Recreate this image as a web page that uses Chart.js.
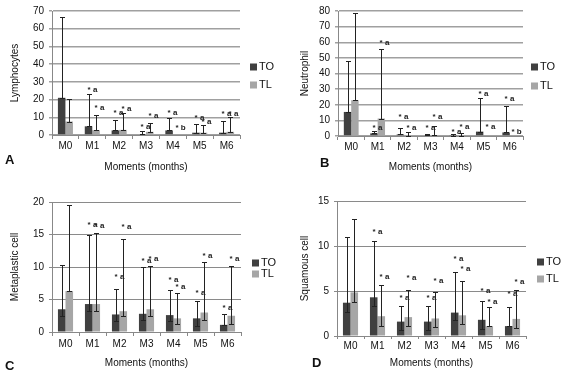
<!DOCTYPE html>
<html lang="en">
<head>
<meta charset="UTF-8">
<title>Cytology by moment</title>
<script src="https://cdn.jsdelivr.net/npm/chart.js"></script>
<style>
  body { margin: 0; background: #fff; width: 562px; height: 375px; position: relative; overflow: hidden; }
  canvas { position: absolute; }
  .tag { position: absolute; font: bold 13px "Liberation Sans", Arial, sans-serif; color: #111; }
</style>
</head>
<body>
<canvas id="chartA" width="280" height="190" style="left:0;top:0"></canvas>
<canvas id="chartB" width="282" height="190" style="left:280px;top:0"></canvas>
<canvas id="chartC" width="280" height="185" style="left:0;top:190px"></canvas>
<canvas id="chartD" width="282" height="185" style="left:280px;top:190px"></canvas>
<div class="tag" style="left:5px;top:152px">A</div>
<div class="tag" style="left:320px;top:155px">B</div>
<div class="tag" style="left:5px;top:358px">C</div>
<div class="tag" style="left:312px;top:355px">D</div>

<script>
const months = ['M0', 'M1', 'M2', 'M3', 'M4', 'M5', 'M6'];

// A - lymphocytes
const lymTO     = [21, 4.9, 2.6, 0.4, 2.6, 1.3, 1.3];
const lymTOhi   = [66.5, 23.2, 8.6, 2.0, 9.6, 6.2, 8.0];
const lymTOlo   = [21, 4.9, 2.6, 0.4, 2.6, 1.3, 1.3];
const lymTL     = [7.6, 2.7, 2.9, 1.8, 0.5, 1.3, 1.8];
const lymTLhi   = [20.2, 11.3, 12.6, 6.8, 0.5, 5.5, 10.0];
const lymTLlo   = [7.6, 2.7, 2.9, 1.8, 0.5, 1.3, 1.8];
const lymTOstar = [null, 25.5, 12.6, 4.5, 12.6, 9.5, 12.2];
const lymTLstar = [null, 15.5, 14.8, 10.8, 4.0, 7.3, 12.2];
const lymTOsig  = ['', 'a', 'a', 'a', 'a', 'a', 'a'];
const lymTLsig  = ['', 'a', 'a', 'a', 'b', 'a', 'a'];

// B - neutrophil
const neuTO     = [15.4, 1.7, 1.0, 0.5, 0.3, 2.8, 2.3];
const neuTOhi   = [47.8, 3.5, 5.3, 1.5, 1.5, 24.3, 19.0];
const neuTOlo   = [15.4, 1.7, 1.0, 0.5, 0.3, 2.8, 2.3];
const neuTL     = [22.9, 11.2, 0.2, 0.5, 0, 0.3, 0];
const neuTLhi   = [78.5, 56, 2.3, 6.3, 2.2, 0.3, 0];
const neuTLlo   = [22.9, 11.2, 0.2, 0.5, 0, 0.3, 0];
const neuTOstar = [null, 5.0, 12.3, 5.5, 2.7, 27.1, 23.9];
const neuTLstar = [null, 59.7, 5.3, 12.3, 6.0, 6.0, 2.8];
const neuTOsig  = ['', 'a', 'a', 'a', 'a', 'a', 'a'];
const neuTLsig  = ['', 'a', 'a', 'a', 'a', 'a', 'b'];

// C - metaplastic cell
const metTO     = [3.5, 4.3, 2.7, 2.8, 2.6, 2.1, 1.1];
const metTOhi   = [10.3, 15.0, 6.6, 10.0, 6.5, 4.8, 2.8];
const metTOlo   = [2.5, 3.3, 1.7, 1.8, 1.7, 1.0, 1.1];
const metTL     = [6.3, 4.3, 3.2, 3.5, 2.1, 3.0, 2.5];
const metTLhi   = [19.6, 15.2, 14.3, 10.1, 6.0, 10.7, 10.2];
const metTLlo   = [6.3, 3.3, 2.4, 2.4, 1.2, 1.8, 1.3];
const metTOstar = [null, 16.5, 8.5, 11.0, 8.0, 6.0, 3.7];
const metTLstar = [null, 16.4, 16.2, 11.2, 7.0, 11.7, 11.2];
const metTOsig  = ['', 'a', 'a', 'a', 'a', 'a', 'a'];
const metTLsig  = ['', 'a', 'a', 'a', 'a', 'a', 'a'];

// D - squamous cell
const squTO     = [3.7, 4.3, 1.6, 1.6, 2.6, 1.8, 1.1];
const squTOhi   = [11.0, 10.6, 3.3, 3.3, 7.1, 3.85, 3.2];
const squTOlo   = [2.7, 3.3, 0.7, 0.7, 1.8, 0.8, 1.1];
const squTL     = [4.85, 2.2, 2.1, 1.95, 2.3, 1.1, 1.9];
const squTLhi   = [13.0, 5.7, 5.15, 4.9, 6.1, 3.2, 5.1];
const squTLlo   = [3.8, 1.15, 1.1, 0.95, 1.3, 1.1, 0.85];
const squTOstar = [null, 11.6, 4.2, 4.3, 8.55, 5.0, 4.7];
const squTLstar = [null, 6.6, 6.5, 6.1, 7.45, 3.85, 6.0];
const squTOsig  = ['', 'a', 'a', 'a', 'a', 'a', 'a'];
const squTLsig  = ['', 'a', 'a', 'a', 'a', 'a', 'a'];

const FONT = '"Liberation Sans", Arial, sans-serif';
Chart.defaults.font.family = FONT;
Chart.defaults.color = '#111';

// whiskers + "*a" marks, placed with the y scale
const errorBars = {
  id: 'errorBars',
  afterDatasetsDraw(chart) {
    const ctx = chart.ctx, ys = chart.scales.y;
    ctx.save();
    ctx.strokeStyle = '#222';
    ctx.fillStyle = '#222';
    ctx.lineWidth = 1;
    ctx.font = 'bold 8px ' + FONT;
    ctx.textAlign = 'center';
    ctx.textBaseline = 'middle';
    chart.data.datasets.forEach((ds, i) => {
      chart.getDatasetMeta(i).data.forEach((bar, j) => {
        const x = Math.round(bar.x) + 0.5;
        if (ds.hi[j] > ds.data[j]) {
          const yt = Math.round(ys.getPixelForValue(ds.hi[j])) + 0.5;
          const yb = Math.round(ys.getPixelForValue(ds.lo[j])) + 0.5;
          ctx.beginPath();
          ctx.moveTo(x, yt); ctx.lineTo(x, yb);
          ctx.moveTo(x - 2.5, yt); ctx.lineTo(x + 2.5, yt);
          ctx.moveTo(x - 2.5, yb); ctx.lineTo(x + 2.5, yb);
          ctx.stroke();
        }
        if (ds.sig[j]) {
          ctx.fillText('* ' + ds.sig[j], x + 3, ys.getPixelForValue(ds.star[j]));
        }
      });
    });
    ctx.restore();
  }
};

const sideLegend = {
  id: 'sideLegend',
  afterDraw(chart, args, opts) {
    const ctx = chart.ctx;
    ctx.save();
    ctx.font = '11px ' + FONT;
    ctx.textBaseline = 'middle';
    chart.data.datasets.forEach((ds, i) => {
      const cy = opts.y + i * opts.gap;
      ctx.fillStyle = ds.backgroundColor;
      ctx.fillRect(opts.x, cy - 3.5, 7, 7);
      ctx.fillStyle = '#111';
      ctx.fillText(ds.label, opts.x + 9, cy);
    });
    ctx.restore();
  }
};

function panel(id, p) {
  new Chart(document.getElementById(id), {
    type: 'bar',
    data: {
      labels: months,
      datasets: [
        { label: 'TO', data: p.to, hi: p.toHi, lo: p.toLo, star: p.toStar, sig: p.toSig, backgroundColor: '#404040' },
        { label: 'TL', data: p.tl, hi: p.tlHi, lo: p.tlLo, star: p.tlStar, sig: p.tlSig, backgroundColor: '#a6a6a6' }
      ]
    },
    options: {
      responsive: false,
      animation: false,
      devicePixelRatio: 1,
      categoryPercentage: 0.56,
      barPercentage: 1.0,
      layout: { padding: { top: p.top, right: p.right, left: 0, bottom: 0 } },
      plugins: {
        legend: { display: false },
        tooltip: { enabled: false },
        sideLegend: p.legend
      },
      scales: {
        x: {
          grid: { drawOnChartArea: false, color: '#888', tickLength: p.xTick },
          border: { color: '#888' },
          ticks: { font: { size: 10 }, padding: p.xPad, color: '#111' },
          title: { display: true, text: 'Moments (months)', font: { size: 10 }, padding: { top: 0, bottom: p.xTitlePad } },
          afterFit: s => { s.height = p.xHeight; }
        },
        y: {
          min: 0, max: p.max,
          ticks: { stepSize: p.step, font: { size: 10 }, padding: 5, color: '#111' },
          grid: { color: p.gridColor, lineWidth: p.gridWidth, tickLength: 3 },
          border: { color: '#888' },
          title: { display: true, text: p.title, font: { size: 10 }, padding: { top: p.yTitlePad, bottom: 0 } },
          afterFit: s => { s.width = p.left; }
        }
      }
    },
    plugins: [errorBars, sideLegend]
  });
}

panel('chartA', {
  to: lymTO, toHi: lymTOhi, toLo: lymTOlo, toStar: lymTOstar, toSig: lymTOsig,
  tl: lymTL, tlHi: lymTLhi, tlLo: lymTLlo, tlStar: lymTLstar, tlSig: lymTLsig,
  title: 'Lymphocytes', max: 70, step: 10,
  left: 52, right: 40, top: 7, xHeight: 55, xTick: 4, xPad: 1.5, xTitlePad: 17, yTitlePad: 9.5,
  gridColor: '#a0a0a0', gridWidth: 1.5,
  legend: { x: 250, y: 67, gap: 18 }
});

panel('chartB', {
  to: neuTO, toHi: neuTOhi, toLo: neuTOlo, toStar: neuTOstar, toSig: neuTOsig,
  tl: neuTL, tlHi: neuTLhi, tlLo: neuTLlo, tlStar: neuTLstar, tlSig: neuTLsig,
  title: 'Neutrophil', max: 80, step: 10,
  left: 58, right: 39, top: 10, xHeight: 54, xTick: 4, xPad: 1.5, xTitlePad: 17, yTitlePad: 19,
  gridColor: '#a0a0a0', gridWidth: 1.5,
  legend: { x: 251, y: 67, gap: 19 }
});

panel('chartC', {
  to: metTO, toHi: metTOhi, toLo: metTOlo, toStar: metTOstar, toSig: metTOsig,
  tl: metTL, tlHi: metTLhi, tlLo: metTLlo, tlStar: metTLstar, tlSig: metTLsig,
  title: 'Metaplastic cell', max: 20, step: 5,
  left: 52, right: 39, top: 12, xHeight: 43, xTick: 4, xPad: 2, xTitlePad: 6, yTitlePad: 9.5,
  gridColor: '#8a8a8a', gridWidth: 1,
  legend: { x: 252, y: 73, gap: 11 }
});

panel('chartD', {
  to: squTO, toHi: squTOhi, toLo: squTOlo, toStar: squTOstar, toSig: squTOsig,
  tl: squTL, tlHi: squTLhi, tlLo: squTLlo, tlStar: squTLstar, tlSig: squTLsig,
  title: 'Squamous cell', max: 15, step: 5,
  left: 57, right: 36, top: 11, xHeight: 39, xTick: 3, xPad: 1, xTitlePad: 6, yTitlePad: 19,
  gridColor: '#8a8a8a', gridWidth: 1,
  legend: { x: 257, y: 72, gap: 17 }
});
</script>
</body>
</html>
